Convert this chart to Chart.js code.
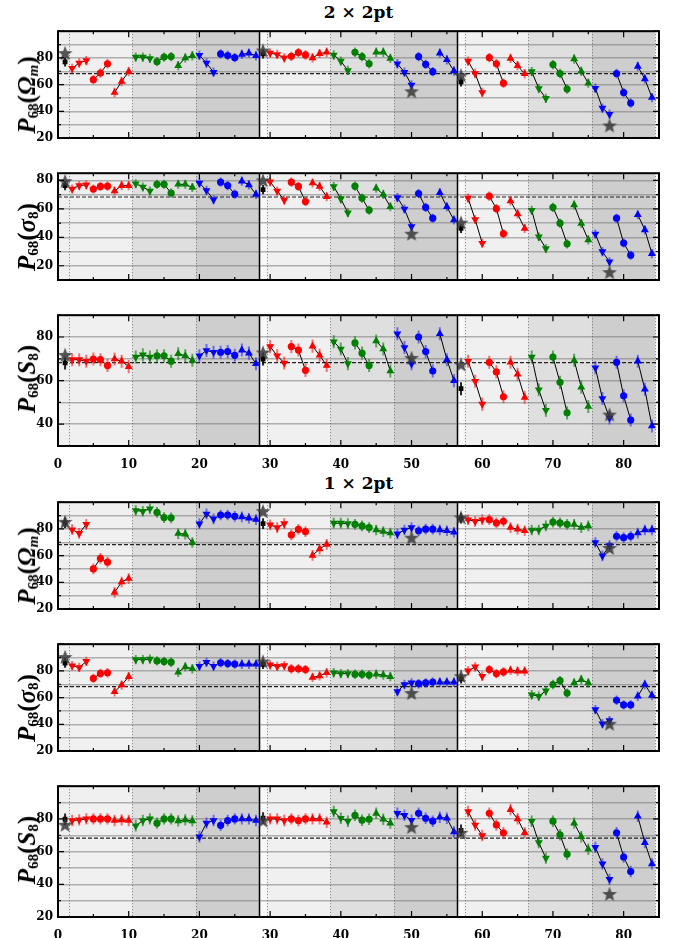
<!DOCTYPE html>
<html>
<head>
<meta charset="utf-8">
<script src="https://cdn.jsdelivr.net/npm/chart.js@4.4.1/dist/chart.umd.min.js"></script>
<style>
  body { margin:0; background:#fff; width:680px; height:938px; position:relative; overflow:hidden; font-family:'Liberation Serif', serif; }
  canvas { position:absolute; left:0; }
  .title { position:absolute; left:58px; width:601px; text-align:center; font-weight:bold; font-size:17px; line-height:22px; font-family:'DejaVu Serif', serif; }
  .ylab { position:absolute; white-space:nowrap; transform:translate(-50%,-50%) rotate(-90deg); font-weight:bold; font-size:25px; line-height:26px; }
  .ylab sub { font-size:0.6em; position:relative; top:0.22em; vertical-align:baseline; line-height:0; font-style:normal; }
  .ylab i { font-style:italic; }
</style>
</head>
<body>
<div class="title" style="top:1px">2 × 2pt</div>
<div class="title" style="top:472px">1 × 2pt</div>

<script>
// ── data ────────────────────────────────────────────
// x position of every run (x = 1, 29, 57 are the reference runs)
const xRuns = [
  2,3,4,5,6,7,8,9,10,11,12,13,14,15,16,17,18,19,20,21,22,23,24,25,26,27,28,
  30,31,32,33,34,35,36,37,38,39,40,41,42,43,44,45,46,47,48,49,50,51,52,53,54,55,56,
  58,59,60,61,62,63,64,65,66,67,68,69,70,71,72,73,74,75,76,77,78,79,80,81,82,83,84
];
const starX   = [1, 29, 50, 57, 78];
const squareX = [1, 29, 57];

// 2 x 2pt
const omA = [
  72.2,76.2,78, 63.7,68.7,75.6, 54.1,62.3,69.7, 80.6,80.6,79.6, 77.2,80.6,81, 74.2,80,81.6, 82,76.2,69.3, 83,81.8,80.2, 82.6,83.6,81.6,
  83.6,82.6,80, 81.2,84,82.2, 80,83.2,84.2, 82.2,77.6,70.6, 84.2,81,75.6, 84.2,84.2,79.6, 75.6,69.3,59.7, 81,75.2,69.7, 83.6,78.6,70.2,
  77.6,68.3,54.1, 80.2,75.6,61.1, 79.6,74.2,68.1, 69.7,57.1,49.7, 75,68.3,56.7, 79.2,70,61.1, 57.3,42.4,37.8, 68.3,54.1,46.2, 73.6,64.3,50.3
];
const omAStar = [83.6, 85.5, 55, 67, 29.4];
const omASq   = [77, 83, 62];

const s8A = [
  73.9,76.3,76.8, 73.9,75.7,75.9, 72.5,76.3,76.3, 77.6,75.3,72.5, 77.2,77.2,71.1, 77.2,77.2,75, 78.1,72.9,66.4, 78.7,76.3,70.3, 79.4,76.8,70.1,
  79,72.5,66.1, 78.7,75.7,65.1, 78.1,75.7,68.5, 75.7,67,57.2, 75.9,67.5,59, 74.4,70.1,61.4, 67.9,59.9,47.5, 70.7,61,53.4, 71.3,61.4,52.1,
  67.5,52.5,35.8, 68.9,60.1,42.5, 65.5,56.4,46.2, 59,40.4,32.1, 61,49.9,35.4, 62.7,49.7,38.2, 42.3,29.9,22.8, 53.4,36,27.4, 55.8,45.2,28.5
];
const s8AStar = [79.4, 80, 42.5, 50.3, 15.5];
const s8ASq   = [76.3, 73.5, 46.2];

const S8A = [
  69.6,69.6,68.9, 69.9,69.6,66.9, 69.9,68.9,66.4, 70.8,71.8,70.8, 71.4,71.4,68.9, 72.3,71.4,69.3, 71.4,73.8,73, 73,73.3,71.6, 74,72.6,67.7,
  75.6,71.4,68.1, 75.6,74,64.7, 75.8,71.6,66.9, 77.8,74.5,67.8, 77.3,72.6,66.9, 78.2,74.5,64.4, 81.5,75.2,67.7, 80,73.3,64.4, 81.5,69.6,60,
  68.9,59.7,49.2, 68.4,64,52.6, 68.4,62.9,52.3, 70.8,55.8,46.4, 70.8,59.2,45.2, 69.3,57,48.1, 65.9,51.8,42.9, 68.4,53,41.9, 68.9,56,39.2
];
const S8AStar = [71.8, 72.9, 70.4, 67.4, 44.4];
const S8ASq   = [68.1, 69.9, 56.3];

// 1 x 2pt
const omB = [
  79.4,76.7,83.4, 50,57.9,55.1, 32.4,40.2,42.8, 93.8,93.2,95.1, 92.4,88.5,88.3, 76.5,76.1,69.8, 83.9,91.2,87.5, 90.4,90.4,89.4, 89,88,87,
  83,81,84, 75.5,79.6,78, 60.2,64.9,68.4, 84.3,84.3,84, 83.4,82.2,81, 79.2,78,76.9, 76.3,79.2,81, 78.6,79.8,79.8, 79.2,78.6,77.5,
  86.9,85.7,86.9, 86.9,84.5,85.7, 81,79.8,78.6, 79.2,79.2,82.2, 85.1,84.5,83.4, 83.4,81,82.2, 69.8,59.8,67.5, 74.5,73.4,74.5, 76.9,79.2,79.2
];
const omBStar = [85.3, 93.3, 73.4, 88.6, 65.7];
const omBSq   = [84.5, 84, 88];

const s8B = [
  83.9,82.6,87.1, 74.4,78.1,78.6, 64.4,69.4,75.7, 88.5,88.5,88.8, 87.5,87.1,86.5, 79,83,81.6, 83.5,86.5,83.5, 86.1,85.5,85.1, 85,85,85,
  84.5,83.4,84, 81.6,81.6,81, 75.1,76.3,78.6, 78.6,78,78, 77.5,77.5,76.9, 77.5,76.9,75.7, 64.5,69.8,71, 70.4,71,71.6, 71.6,71.6,71.6,
  80,83,76, 81,78,79.2, 80.4,79.8,79.8, 62.1,61,65.1, 69.8,72.7,63.4, 71,73.4,71, 51,40.4,42.8, 58,54.5,54.5, 61,69.8,61.6
];
const s8BStar = [90.4, 87, 63.4, 76, 40.4];
const s8BSq   = [85.9, 85, 74];

const S8B = [
  79,79.4,80, 80,80,80, 79,79.4,79, 75.8,79,80, 77.4,80,80, 78.8,79.4,78.8, 69.1,77.4,79, 76.1,79,80, 80,80,79,
  80,80,79, 80,79,80, 80,80,78, 84.5,80.4,78.6, 82.2,79.2,79.8, 83.4,79.8,77.4, 83.4,82.2,79.2, 83.4,80.4,78.6, 81,80.4,72,
  84.5,76.3,69.8, 83.4,76.3,71.5, 85.7,80,71.5, 78.6,65.5,56, 78.6,70.3,58.4, 77.4,69.1,61.4, 62.6,52.5,43, 71.5,56.7,47.8, 81.6,65.5,52.5
];
const S8BStar = [76.4, 79, 75, 71.5, 34.1];
const S8BSq   = [79.8, 80.5, 73];

const refLine   = 68.27;
const bandEdges = [0, 10.5, 19.5, 28.5, 29.5, 38.5, 47.5, 56.5, 57.5, 66.5, 75.5, 84.5, 85];
const dotLines  = [1.5, 10.5, 19.5, 29.5, 38.5, 47.5, 57.5, 66.5, 75.5, 84.5];
const solidLines = [28.5, 56.5];

// ── styles ──────────────────────────────────────────
const bandFill = ['#f0f0f0','#dfdfdf','#cecece','#f8f8f8','#f0f0f0','#dfdfdf','#cecece','#f8f8f8','#f0f0f0','#dfdfdf','#cecece','#f8f8f8'];
const markColor = ['#ff0000', '#008000', '#0000ff'];
const errColor  = ['rgba(255,40,40,0.65)', 'rgba(0,128,0,0.6)', 'rgba(40,40,255,0.6)'];
const tickFont  = { family: "'DejaVu Serif', serif", size: 12, weight: 'bold' };

const starImg = document.createElement('canvas');
starImg.width = starImg.height = 16;
(() => {
  const c = starImg.getContext('2d');
  c.beginPath();
  for (let i = 0; i < 10; i++) {
    const r = i % 2 ? 3.3 : 7.8, a = -Math.PI / 2 + i * Math.PI / 5;
    c.lineTo(8 + r * Math.cos(a), 8.6 + r * Math.sin(a));
  }
  c.closePath();
  c.fillStyle = 'rgba(55,55,55,0.85)';
  c.fill();
})();

const isMult = (v, m) => Math.abs(v / m - Math.round(v / m)) < 1e-6;

const decor = {
  id: 'decor',
  beforeDraw(chart) {
    const { ctx, chartArea: a, scales: { x } } = chart;
    ctx.save();
    for (let i = 0; i < bandEdges.length - 1; i++) {
      const x0 = x.getPixelForValue(bandEdges[i]), x1 = x.getPixelForValue(bandEdges[i + 1]);
      ctx.fillStyle = bandFill[i];
      ctx.fillRect(x0, a.top, x1 - x0, a.height);
    }
    ctx.restore();
  },
  beforeDatasetsDraw(chart) {
    const { ctx, chartArea: a, scales: { x, y } } = chart;
    ctx.save();
    ctx.beginPath(); ctx.rect(a.left, a.top, a.width, a.height); ctx.clip();
    ctx.strokeStyle = 'rgba(90,90,90,0.8)'; ctx.lineWidth = 1; ctx.setLineDash([1, 2]);
    dotLines.forEach(v => {
      const px = Math.round(x.getPixelForValue(v)) + 0.5;
      ctx.beginPath(); ctx.moveTo(px, a.top); ctx.lineTo(px, a.bottom); ctx.stroke();
    });
    ctx.setLineDash([]);
    ctx.strokeStyle = '#000'; ctx.lineWidth = 1.5;
    solidLines.forEach(v => {
      const px = x.getPixelForValue(v);
      ctx.beginPath(); ctx.moveTo(px, a.top); ctx.lineTo(px, a.bottom); ctx.stroke();
    });
    ctx.setLineDash([4, 2]); ctx.lineWidth = 1.2; ctx.strokeStyle = '#222';
    const py = y.getPixelForValue(refLine);
    ctx.beginPath(); ctx.moveTo(a.left, py); ctx.lineTo(a.right, py); ctx.stroke();
    ctx.setLineDash([]);
    ctx.lineWidth = 2;
    chart.data.datasets.forEach(ds => {
      if (!ds.err) return;
      ctx.strokeStyle = ds.errColor;
      ds.data.forEach(p => {
        const px = x.getPixelForValue(p.x);
        ctx.beginPath();
        ctx.moveTo(px, y.getPixelForValue(p.y - ds.err));
        ctx.lineTo(px, y.getPixelForValue(p.y + ds.err));
        ctx.stroke();
      });
    });
    ctx.restore();
  },
  afterDraw(chart) {
    const { ctx, chartArea: a, scales: { x, y } } = chart;
    ctx.save();
    ctx.strokeStyle = '#000'; ctx.lineWidth = 1.2;
    for (let v = 5; v < 85; v += 5) {
      const px = x.getPixelForValue(v), l = v % 10 ? 3 : 6;
      ctx.beginPath();
      ctx.moveTo(px, a.top); ctx.lineTo(px, a.top + l);
      ctx.moveTo(px, a.bottom); ctx.lineTo(px, a.bottom - l);
      ctx.stroke();
    }
    for (let v = Math.ceil(y.min / 10) * 10; v <= y.max; v += 10) {
      const py = y.getPixelForValue(v), l = v % 20 ? 3 : 6;
      ctx.beginPath();
      ctx.moveTo(a.left, py); ctx.lineTo(a.left + l, py);
      ctx.moveTo(a.right, py); ctx.lineTo(a.right - l, py);
      ctx.stroke();
    }
    ctx.lineWidth = 2;
    ctx.strokeRect(a.left, a.top, a.width, a.height);
    ctx.restore();
  }
};

const panels = [
  { top: 27,  min: 20, max: 100, vals: omA, star: omAStar, sq: omASq, err: 3.5, lab: '<i>P</i><sub>68</sub>(<i>Ω</i><sub><i>m</i></sub>)' },
  { top: 169, min: 10, max: 85,  vals: s8A, star: s8AStar, sq: s8ASq, err: 3.2, lab: '<i>P</i><sub>68</sub>(<i>σ</i><sub>8</sub>)' },
  { top: 311, min: 30, max: 90,  vals: S8A, star: S8AStar, sq: S8ASq, err: 3,   lab: '<i>P</i><sub>68</sub>(<i>S</i><sub>8</sub>)', xLab: true },
  { top: 498, min: 20, max: 100, vals: omB, star: omBStar, sq: omBSq, err: 4,   lab: '<i>P</i><sub>68</sub>(<i>Ω</i><sub><i>m</i></sub>)' },
  { top: 640, min: 20, max: 100, vals: s8B, star: s8BStar, sq: s8BSq, err: 3.5, lab: '<i>P</i><sub>68</sub>(<i>σ</i><sub>8</sub>)' },
  { top: 782, min: 20, max: 100, vals: S8B, star: S8BStar, sq: S8BSq, err: 3.5, lab: '<i>P</i><sub>68</sub>(<i>S</i><sub>8</sub>)', xLab: true }
];

const PAD = 8, PLOT_H = 135, XAX_H = 24;

panels.forEach(p => {
  const h = PAD + PLOT_H + (p.xLab ? XAX_H : PAD);
  const cv = document.createElement('canvas');
  cv.width = 680; cv.height = h;
  cv.style.top = (p.top - PAD) + 'px';
  cv.style.width = '680px'; cv.style.height = h + 'px';
  document.body.appendChild(cv);

  const lab = document.createElement('div');
  lab.className = 'ylab';
  lab.innerHTML = p.lab;
  lab.style.left = '27px';
  lab.style.top = (p.top + PLOT_H / 2) + 'px';
  document.body.appendChild(lab);

  const datasets = [
    { data: starX.map((x, i) => ({ x, y: p.star[i] })), showLine: false, pointStyle: starImg },
    { data: squareX.map((x, i) => ({ x, y: p.sq[i] })), showLine: false, pointStyle: 'rect',
      pointRadius: 3.4, pointBackgroundColor: '#000', pointBorderColor: '#000', pointBorderWidth: 0,
      err: p.err, errColor: 'rgba(0,0,0,0.85)' }
  ];
  for (let t = 0; t < xRuns.length / 3; t++) {
    const c = Math.floor(t / 3) % 3, shape = t % 3;
    datasets.push({
      data: [0, 1, 2].map(i => ({ x: xRuns[t * 3 + i], y: p.vals[t * 3 + i] })),
      borderColor: '#000', borderWidth: 1, tension: 0,
      pointStyle: shape === 1 ? 'circle' : 'triangle',
      pointRotation: shape === 0 ? 180 : 0,
      pointRadius: shape === 1 ? 3.6 : 4.6,
      pointBackgroundColor: markColor[c], pointBorderColor: markColor[c], pointBorderWidth: 0,
      err: p.err, errColor: errColor[c]
    });
  }

  new Chart(cv, {
    type: 'line',
    data: { datasets },
    options: {
      responsive: false, animation: false, devicePixelRatio: 1,
      layout: { padding: { left: 0, right: 21, top: PAD, bottom: p.xLab ? 0 : PAD } },
      plugins: { legend: { display: false }, tooltip: { enabled: false } },
      scales: {
        x: {
          type: 'linear', min: 0, max: 85, display: !!p.xLab,
          grid: { display: false }, border: { display: false },
          ticks: { autoSkip: false, maxRotation: 0, padding: 4, color: '#000', font: tickFont,
                   callback: v => isMult(v, 10) ? Math.round(v) : '' },
          afterBuildTicks: s => {
            const t = [];
            for (let v = 0; v <= 80; v += 10) t.push({ value: v });
            s.ticks = t;
          },
          afterFit: s => { s.height = XAX_H; }
        },
        y: {
          min: p.min, max: p.max,
          grid: { color: 'rgba(120,120,120,0.55)', lineWidth: 1.5, drawTicks: false },
          border: { display: false },
          ticks: { autoSkip: false, padding: 5, color: '#000', font: tickFont,
                   callback: v => (isMult(v, 20) && v < p.max) ? Math.round(v) : '' },
          afterBuildTicks: s => {
            const t = [];
            for (let v = Math.ceil(p.min / 10) * 10; v <= p.max; v += 10) t.push({ value: v });
            s.ticks = t;
          },
          afterFit: s => { s.width = 58; }
        }
      }
    },
    plugins: [decor]
  });
});
</script>
</body>
</html>
